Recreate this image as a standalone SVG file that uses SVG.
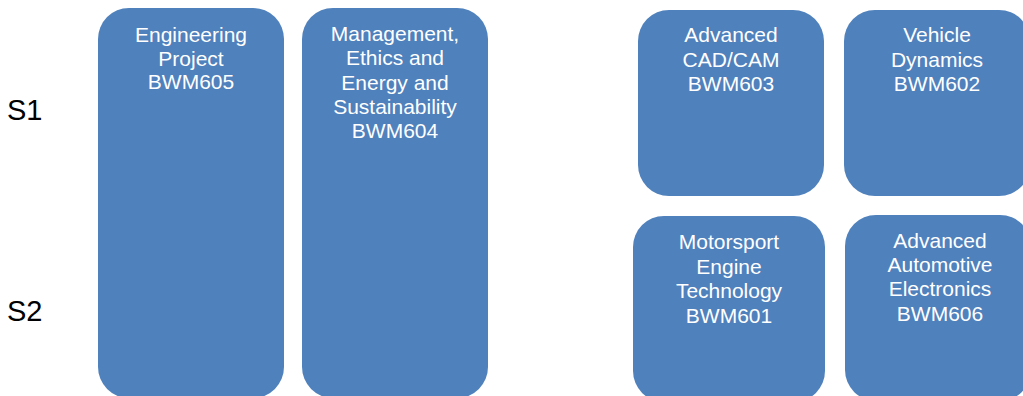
<svg xmlns="http://www.w3.org/2000/svg" width="1023" height="396" viewBox="0 0 1023 396">
  <style>
    .box { fill: #4F81BD; }
    .lbl { font-family: "Liberation Sans", Arial, sans-serif; font-size: 21px; fill: #FFFFFF; text-anchor: middle; }
    .sem { font-family: "Liberation Sans", Arial, sans-serif; font-size: 29px; fill: #000000; }
  </style>
  <rect width="1023" height="396" fill="#FFFFFF"/>

  <!-- semester labels -->
  <g id="semesters">
    <text class="sem" x="7" y="120">S1</text>
    <text class="sem" x="7" y="321">S2</text>
  </g>

  <g id="bwm605">
    <rect class="box" x="98" y="8" width="186" height="390" rx="31" ry="31"/>
    <text class="lbl" x="191" y="42">Engineering</text>
    <text class="lbl" x="191" y="66">Project</text>
    <text class="lbl" x="191" y="89">BWM605</text>
  </g>

  <g id="bwm604">
    <rect class="box" x="302" y="8" width="186" height="390" rx="31" ry="31"/>
    <text class="lbl" x="395" y="41">Management,</text>
    <text class="lbl" x="395" y="65">Ethics and</text>
    <text class="lbl" x="395" y="90">Energy and</text>
    <text class="lbl" x="395" y="114">Sustainability</text>
    <text class="lbl" x="395" y="138">BWM604</text>
  </g>

  <g id="bwm603">
    <rect class="box" x="638" y="10" width="186" height="186" rx="31" ry="31"/>
    <text class="lbl" x="731" y="42">Advanced</text>
    <text class="lbl" x="731" y="67">CAD/CAM</text>
    <text class="lbl" x="731" y="91">BWM603</text>
  </g>

  <g id="bwm602">
    <rect class="box" x="844" y="10" width="186" height="186" rx="31" ry="31"/>
    <text class="lbl" x="937" y="42">Vehicle</text>
    <text class="lbl" x="937" y="67">Dynamics</text>
    <text class="lbl" x="937" y="91">BWM602</text>
  </g>

  <g id="bwm601">
    <rect class="box" x="633" y="216" width="192" height="186" rx="31" ry="31"/>
    <text class="lbl" x="729" y="249">Motorsport</text>
    <text class="lbl" x="729" y="274">Engine</text>
    <text class="lbl" x="729" y="298">Technology</text>
    <text class="lbl" x="729" y="323">BWM601</text>
  </g>

  <g id="bwm606">
    <rect class="box" x="845" y="215" width="186" height="186" rx="31" ry="31"/>
    <text class="lbl" x="940" y="248">Advanced</text>
    <text class="lbl" x="940" y="272">Automotive</text>
    <text class="lbl" x="940" y="296">Electronics</text>
    <text class="lbl" x="940" y="321">BWM606</text>
  </g>

  <!-- no connectors in this layout -->
  <g id="connectors"/>
</svg>
